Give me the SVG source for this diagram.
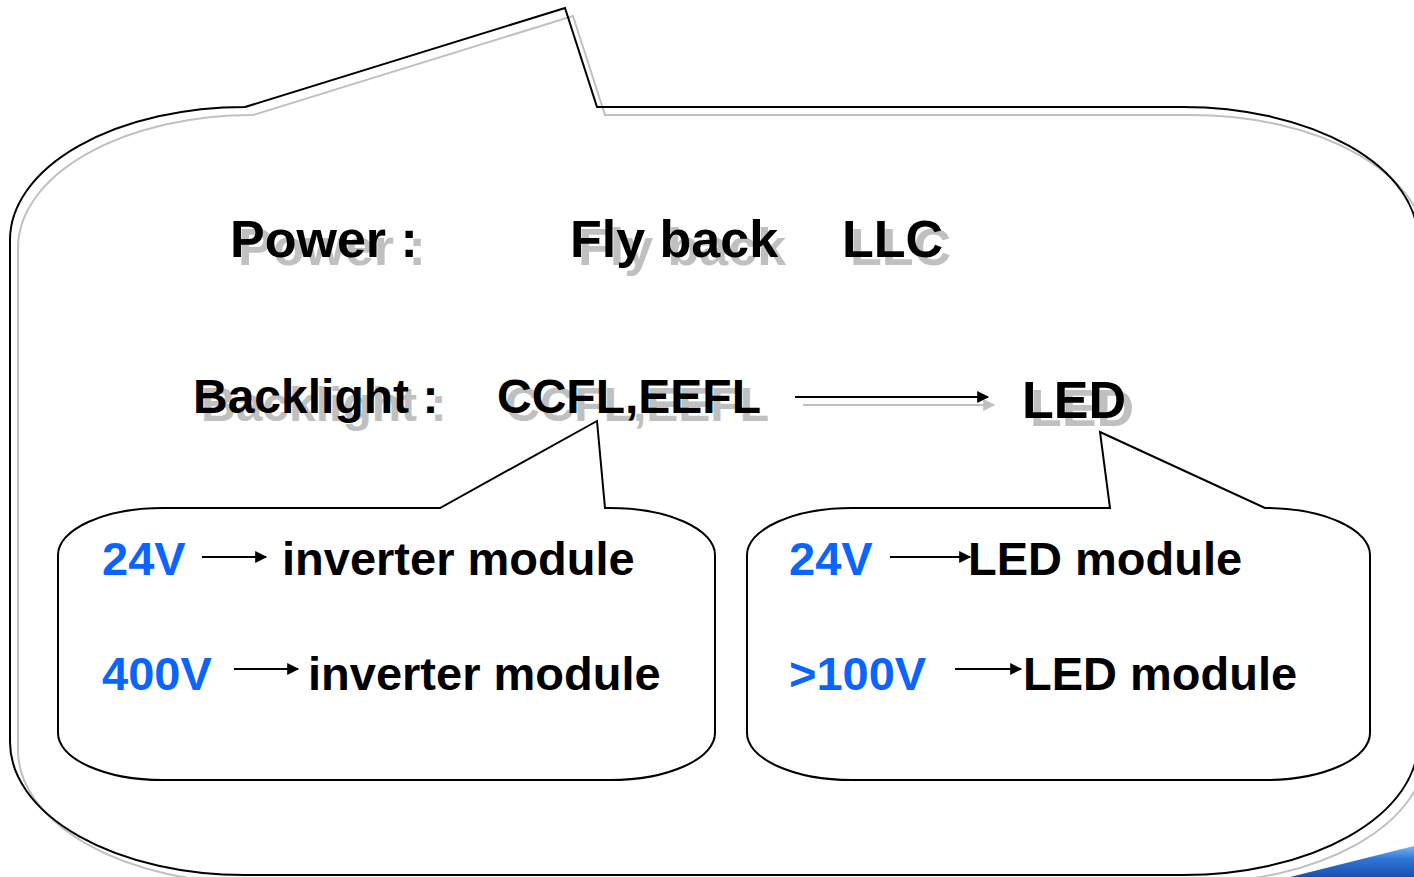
<svg xmlns="http://www.w3.org/2000/svg" width="1414" height="877" viewBox="0 0 1414 877">
<defs>
<style>
.t{font-family:"Liberation Sans",Arial,sans-serif;font-weight:bold;}
.sh{fill:#c0c0c0;}
.bk{fill:#000;}
.bl{fill:#0a64ff;}
.ol{fill:none;stroke:#000;stroke-width:2;stroke-linejoin:miter;}
.olg{fill:none;stroke:#c0c0c0;stroke-width:2;}
.ar{stroke:#000;stroke-width:2;fill:none;}
</style>
<marker id="ah" viewBox="0 0 10 10" refX="9" refY="5" markerWidth="7" markerHeight="6" markerUnits="strokeWidth" orient="auto">
<path d="M0,0 L10,5 L0,10 Z" fill="#000"/>
</marker>
<marker id="ahg" viewBox="0 0 10 10" refX="9" refY="5" markerWidth="7" markerHeight="6" markerUnits="strokeWidth" orient="auto">
<path d="M0,0 L10,5 L0,10 Z" fill="#c0c0c0"/>
</marker>
<linearGradient id="bg" x1="0" y1="0" x2="0" y2="1">
<stop offset="0" stop-color="#7fb4ee"/>
<stop offset="0.4" stop-color="#2f78d8"/>
<stop offset="1" stop-color="#1a4fb0"/>
</linearGradient>
</defs>
<rect width="1414" height="877" fill="#fff"/>
<path d="M1290,877 L1414,846 L1414,877 Z" fill="url(#bg)"/>
<g id="main-callout">
<path class="olg" transform="translate(8,8)" d="M245,107 L565,8 L597,107 L1183,107 A235 133 0 0 1 1418,240 L1418,742 A235 133 0 0 1 1183,875 L245,875 A235 133 0 0 1 10,742 L10,240 A235 133 0 0 1 245,107 Z"/>
<path class="ol" d="M245,107 L565,8 L597,107 L1183,107 A235 133 0 0 1 1418,240 L1418,742 A235 133 0 0 1 1183,875 L245,875 A235 133 0 0 1 10,742 L10,240 A235 133 0 0 1 245,107 Z"/>
</g>
<g id="power">
<text class="t sh" x="238" y="265" font-size="52">Power :</text>
<text class="t bk" x="230" y="257" font-size="52">Power :</text>
<text class="t sh" x="578" y="265" font-size="52">Fly back</text>
<text class="t bk" x="570" y="257" font-size="52">Fly back</text>
<text class="t sh" x="850" y="265" font-size="52">LLC</text>
<text class="t bk" x="842" y="257" font-size="52">LLC</text>
</g>
<g id="backlight">
<text class="t sh" x="201" y="421" font-size="48">Backlight :</text>
<text class="t bk" x="193" y="413" font-size="48">Backlight :</text>
<text class="t sh" x="505" y="421" font-size="48">CCFL,EEFL</text>
<text class="t bk" x="497" y="413" font-size="48">CCFL,EEFL</text>
</g>
<g id="led">
<text class="t sh" x="1030" y="426" font-size="52">LED</text>
<text class="t bk" x="1022" y="418" font-size="52">LED</text>
</g>
<g id="connectors">
<line x1="803" y1="405" x2="994" y2="405" stroke="#c0c0c0" stroke-width="2" marker-end="url(#ahg)"/>
<line class="ar" x1="795" y1="397" x2="988" y2="397" marker-end="url(#ah)"/>
<line class="ar" x1="202" y1="557" x2="266" y2="557" marker-end="url(#ah)"/>
<line class="ar" x1="234" y1="669" x2="298" y2="669" marker-end="url(#ah)"/>
<line class="ar" x1="890" y1="557" x2="970" y2="557" marker-end="url(#ah)"/>
<line class="ar" x1="955" y1="669" x2="1021" y2="669" marker-end="url(#ah)"/>
</g>
<g id="inverter-callout">
<path class="ol" d="M163,508 L440,508 L597,421 L605,508 L610,508 A105 47 0 0 1 715,555 L715,733 A105 47 0 0 1 610,780 L163,780 A105 47 0 0 1 58,733 L58,555 A105 47 0 0 1 163,508 Z"/>
<text class="t bl" x="102" y="575" font-size="47">24V</text>
<text class="t bk" x="282" y="575" font-size="47">inverter module</text>
<text class="t bl" x="102" y="690" font-size="47">400V</text>
<text class="t bk" x="308" y="690" font-size="47">inverter module</text>
</g>
<g id="led-callout">
<path class="ol" d="M852,508 L1110,508 L1100,432 L1265,508 A105 47 0 0 1 1370,555 L1370,733 A105 47 0 0 1 1265,780 L852,780 A105 47 0 0 1 747,733 L747,555 A105 47 0 0 1 852,508 Z"/>
<text class="t bl" x="789" y="575" font-size="47">24V</text>
<text class="t bk" x="968" y="575" font-size="47">LED module</text>
<text class="t bl" x="789" y="690" font-size="47">&gt;100V</text>
<text class="t bk" x="1023" y="690" font-size="47">LED module</text>
</g>
</svg>
